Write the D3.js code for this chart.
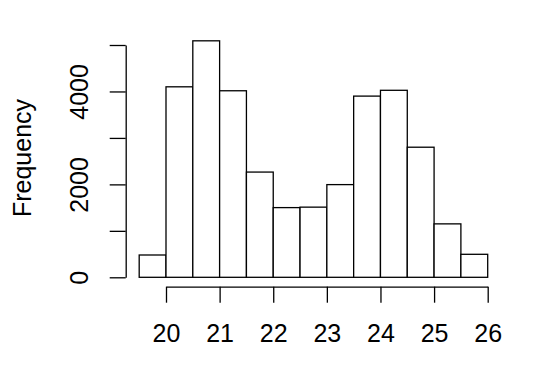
<!DOCTYPE html>
<html lang="en">
  <head>
    <meta charset="UTF-8" />
    <title>Histogram</title>
    <script src="https://d3js.org/d3.v7.min.js"></script>
    <style>
      body { margin: 0; background: #fff; }
      text { font-family: "Liberation Sans", Arial, sans-serif; fill: #000; }
    </style>
  </head>
  <body>
    <div id="chart"></div>
    <script>
      // histogram data (bin breaks and counts)
      const breaks = [19.5, 20, 20.5, 21, 21.5, 22, 22.5, 23, 23.5, 24, 24.5, 25, 25.5, 26];
      const counts = [480, 4100, 5090, 4015, 2265, 1500, 1510, 1995, 3900, 4025, 2800, 1150, 495];
      const xTicks = [20, 21, 22, 23, 24, 25, 26];
      const yTicks = [0, 1000, 2000, 3000, 4000, 5000];
      const yLabels = [0, 2000, 4000];

      const width = 540;
      const height = 365;

      const svg = d3
        .select("#chart")
        .append("svg")
        .attr("width", width)
        .attr("height", height);

      const x = d3.scaleLinear().domain([20, 26]).range([166, 487.7]);
      const y = d3.scaleLinear().domain([0, 5000]).range([277.3, 45]);

      const bins = counts.map((c, i) => ({ x0: breaks[i], x1: breaks[i + 1], n: c }));

      // bars
      svg
        .append("g")
        .selectAll("rect")
        .data(bins)
        .enter()
        .append("rect")
        .attr("x", (d) => x(d.x0))
        .attr("width", (d) => x(d.x1) - x(d.x0))
        .attr("y", (d) => y(d.n))
        .attr("height", (d) => y(0) - y(d.n))
        .attr("fill", "#fff")
        .attr("stroke", "#000")
        .attr("stroke-width", 1.3);

      // y axis
      const yAxis = svg
        .append("g")
        .attr("transform", "translate(125.7,0)")
        .call(
          d3
            .axisLeft(y)
            .tickValues(yTicks)
            .tickSize(16)
            .tickSizeOuter(0)
            .tickFormat((d) => (yLabels.includes(d) ? d : ""))
        );
      yAxis.selectAll("path, line").attr("stroke", "#000").attr("stroke-width", 1.3);
      yAxis
        .selectAll("text")
        .attr("transform", "rotate(-90)")
        .attr("x", 0)
        .attr("y", -37.7)
        .attr("dy", 0)
        .attr("text-anchor", "middle")
        .style("font-size", "25px")
        .attr("fill", "#000");

      // x axis
      const xAxis = svg
        .append("g")
        .attr("transform", "translate(0,286.7)")
        .call(
          d3
            .axisBottom(x)
            .tickValues(xTicks)
            .tickSize(16)
            .tickSizeOuter(0)
            .tickPadding(22)
            .tickFormat(d3.format("d"))
        );
      xAxis.selectAll("path, line").attr("stroke", "#000").attr("stroke-width", 1.3);
      xAxis.selectAll("text").style("font-size", "25px").attr("fill", "#000");

      // axis title
      svg
        .append("text")
        .attr("transform", "rotate(-90)")
        .attr("x", -158)
        .attr("y", 31)
        .attr("text-anchor", "middle")
        .style("font-size", "25px")
        .text("Frequency");
    </script>
  </body>
</html>
